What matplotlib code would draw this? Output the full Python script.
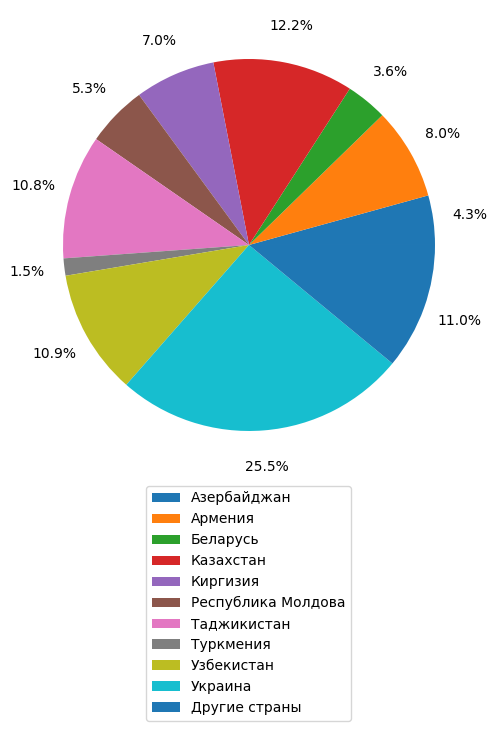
import matplotlib
matplotlib.use("Agg")
import matplotlib.pyplot as plt

# Доли стран (%)
countries = ['Азербайджан', 'Армения', 'Беларусь', 'Казахстан', 'Киргизия',
             'Республика Молдова', 'Таджикистан', 'Туркмения', 'Узбекистан',
             'Украина', 'Другие страны']
shares = [4.3, 8.0, 3.6, 12.2, 7.0, 5.3, 10.8, 1.5, 10.9, 25.5, 11.0]

fig = plt.figure(figsize=(4.97, 7.30), dpi=100)
ax = fig.add_axes([0.0332, 0.3459, 0.9356, 0.637])

# подписи процентов снаружи круга
ax.pie(shares, autopct='%1.1f%%', pctdistance=1.2)
ax.set_aspect('equal')

fig.legend(countries, loc='upper center', bbox_to_anchor=(0.5, 0.344))

fig.savefig('out.png', dpi=100)
